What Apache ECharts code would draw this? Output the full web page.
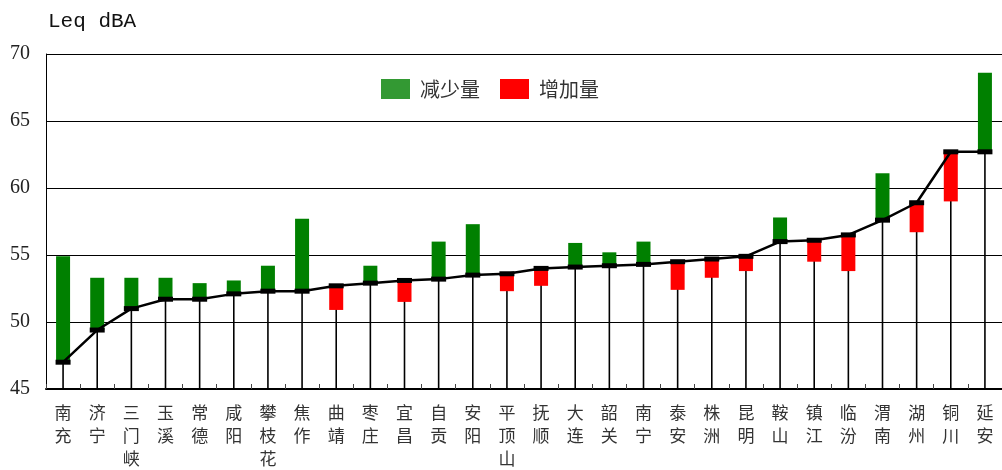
<!DOCTYPE html>
<html>
<head>
<meta charset="utf-8">
<script src="https://cdn.jsdelivr.net/npm/echarts@6/dist/echarts.min.js"></script>
<style>html,body{margin:0;padding:0;background:#fff}#c{width:1002px;height:470px}</style>
</head>
<body>
<div id="c"></div>
<script>
const cities = ['南充','济宁','三门峡','玉溪','常德','咸阳','攀枝花','焦作','曲靖','枣庄','宜昌','自贡','安阳','平顶山','抚顺','大连','韶关','南宁','泰安','株洲','昆明','鞍山','镇江','临汾','渭南','湖州','铜川','延安'];
const currentLeq = [47.0,49.4,51.0,51.7,51.7,52.1,52.3,52.3,52.7,52.9,53.1,53.2,53.5,53.6,54.0,54.1,54.2,54.3,54.5,54.7,54.9,56.0,56.1,56.5,57.6,58.9,62.7,62.7];
const previousLeq = [54.9,53.3,53.3,53.3,52.9,53.1,54.2,57.7,50.9,54.2,51.5,56.0,57.3,52.3,52.7,55.9,55.2,56.0,52.4,53.3,53.8,57.8,54.5,53.8,61.1,56.7,59.0,68.6];
const yTicks = {min: 45, max: 70, interval: 5};

const decreaseData = [], increaseData = [], stemData = [];
cities.forEach((c, i) => {
  stemData.push([i, currentLeq[i]]);
  if (previousLeq[i] > currentLeq[i]) decreaseData.push([i, currentLeq[i], previousLeq[i]]);
  else if (previousLeq[i] < currentLeq[i]) increaseData.push([i, previousLeq[i], currentLeq[i]]);
});

function barRender(params, api) {
  const a = api.coord([api.value(0), api.value(1)]);
  const b = api.coord([api.value(0), api.value(2)]);
  const w = 14;
  return {
    type: 'rect',
    shape: {x: a[0] - w / 2, y: Math.min(a[1], b[1]), width: w, height: Math.abs(a[1] - b[1])},
    style: {fill: api.visual('color')}
  };
}
function stemRender(params, api) {
  const top = api.coord([api.value(0), api.value(1)]);
  const bottom = params.coordSys.y + params.coordSys.height;
  return {
    type: 'line',
    shape: {x1: top[0], y1: top[1], x2: top[0], y2: bottom},
    style: {stroke: '#000', lineWidth: 1.6}
  };
}

const chart = echarts.init(document.getElementById('c'), null, {renderer: 'canvas'});
chart.setOption({
  animation: false,
  backgroundColor: '#fff',
  title: {
    text: 'Leq dBA', left: 43, top: 6,
    textStyle: {fontFamily: 'Liberation Mono', fontSize: 21, fontWeight: 'normal', color: '#111'}
  },
  legend: {
    left: 376, top: 74,
    itemWidth: 29, itemHeight: 20, itemGap: 20,
    textStyle: {fontFamily: 'Noto Sans CJK SC', fontSize: 20, color: '#333', padding: [0, 0, 0, 5]},
    data: [
      {name: '减少量', icon: 'rect', itemStyle: {color: '#339933'}},
      {name: '增加量', icon: 'rect', itemStyle: {color: '#ff0000'}}
    ]
  },
  grid: {left: 46, right: 0, top: 54, bottom: 80, containLabel: false},
  xAxis: {
    type: 'category',
    data: cities,
    boundaryGap: true,
    axisLine: {lineStyle: {color: '#000', width: 2}},
    axisTick: {show: true, inside: true, length: 5, lineStyle: {color: '#444', width: 1}},
    axisLabel: {
      interval: 0, margin: 12,
      fontFamily: 'Noto Sans CJK SC', fontSize: 17, lineHeight: 23, color: '#333',
      verticalAlign: 'top',
      formatter: v => v.split('').join('\n')
    }
  },
  yAxis: {
    type: 'value',
    min: yTicks.min, max: yTicks.max, interval: yTicks.interval,
    axisLine: {show: true, lineStyle: {color: '#000', width: 1}},
    axisTick: {show: false},
    splitLine: {lineStyle: {color: '#000', width: 1}},
    axisLabel: {fontFamily: 'Liberation Serif', fontSize: 20, color: '#222', margin: 16}
  },
  series: [
    {
      name: 'stem', type: 'custom', renderItem: stemRender, data: stemData,
      encode: {x: 0, y: 1}, z: 1, silent: true
    },
    {
      name: '减少量', type: 'custom', renderItem: barRender, data: decreaseData,
      encode: {x: 0, y: [1, 2]}, itemStyle: {color: '#008000'}, z: 2
    },
    {
      name: '增加量', type: 'custom', renderItem: barRender, data: increaseData,
      encode: {x: 0, y: [1, 2]}, itemStyle: {color: '#ff0000'}, z: 2
    },
    {
      name: 'line', type: 'line', data: currentLeq, symbol: 'none',
      lineStyle: {color: '#000', width: 2.5}, z: 3, silent: true
    },
    {
      name: 'marker', type: 'scatter', data: currentLeq, symbol: 'rect',
      symbolSize: [15, 5], itemStyle: {color: '#000', opacity: 1}, z: 4, silent: true
    }
  ]
});
</script>
</body>
</html>
